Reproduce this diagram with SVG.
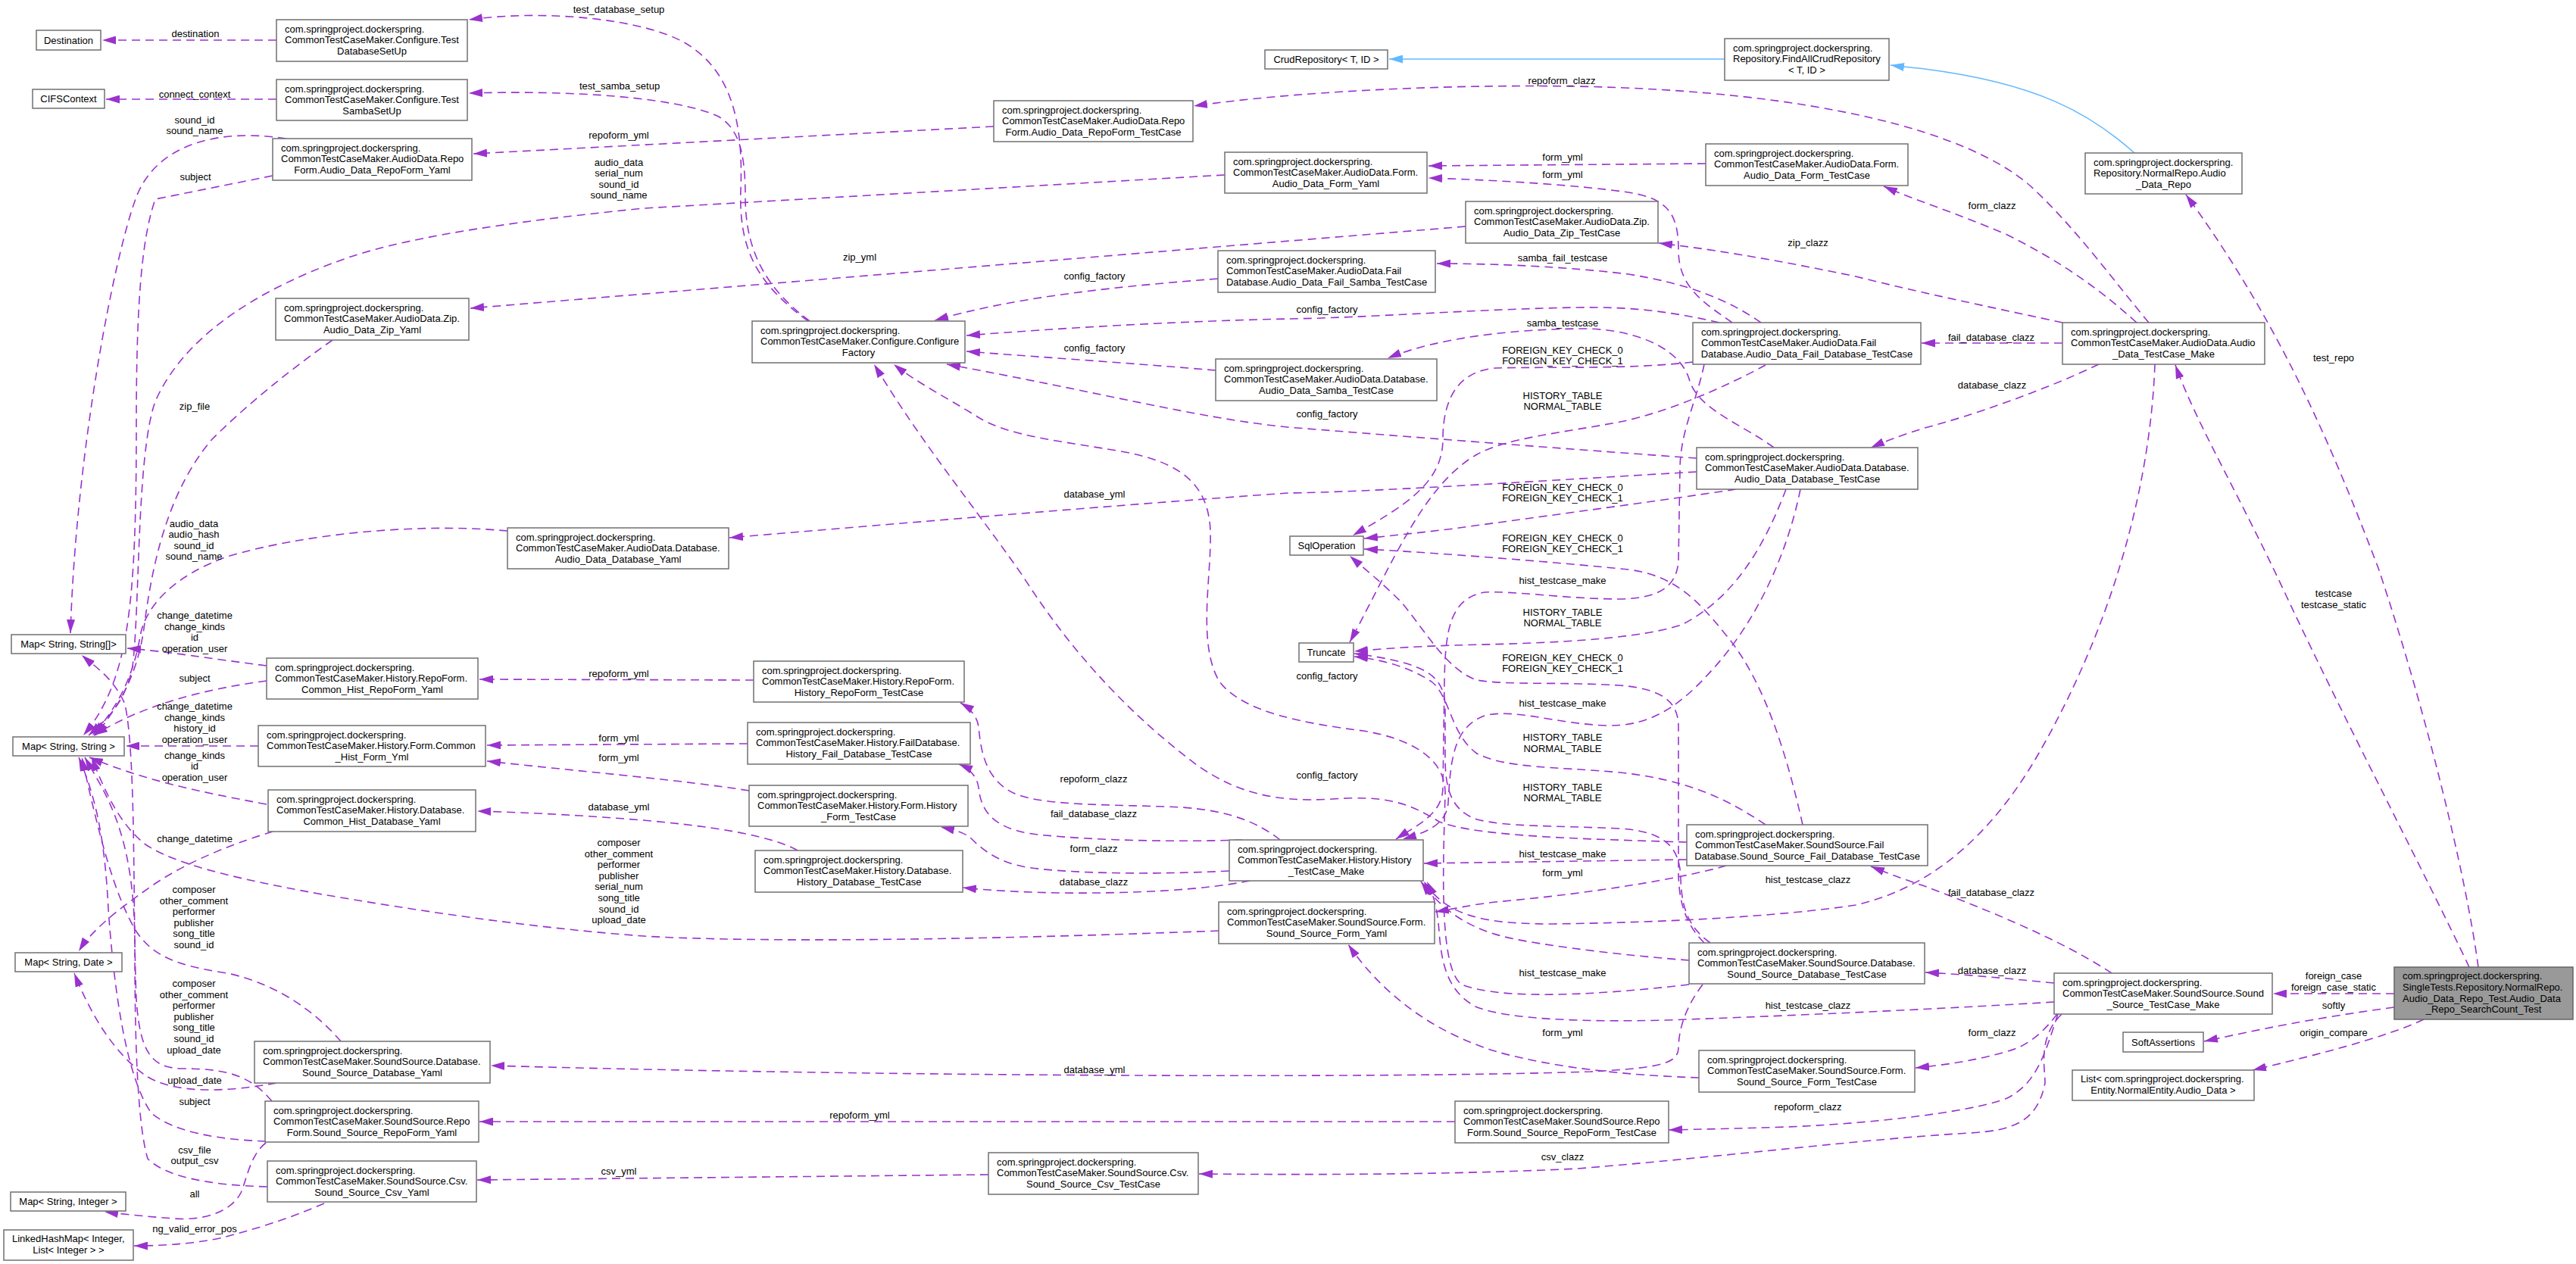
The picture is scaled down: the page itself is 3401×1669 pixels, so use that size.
<svg xmlns="http://www.w3.org/2000/svg" width="3401" height="1669" viewBox="0 0 3401 1669">
<style>
.n rect{fill:#fff;stroke:#707070;stroke-width:1.5}
.f rect{fill:#999;stroke:#666;stroke-width:1.5}
text{font-family:"Liberation Sans",Arial,sans-serif;font-size:13px;fill:#000}
.c{text-anchor:middle}
.e path{fill:none;stroke:#9a32cd;stroke-width:1.6;stroke-dasharray:11 7;marker-end:url(#a)}
.e path.b{stroke:#63b8ff;stroke-dasharray:none;marker-end:url(#b)}
.lb text{text-anchor:middle}
</style>
<defs>
<marker id="a" viewBox="0 0 18 11" refX="18" refY="5.5" markerWidth="18" markerHeight="11" markerUnits="userSpaceOnUse" orient="auto"><path d="M0,0L18,5.5L0,11z" fill="#9a32cd"/></marker>
<marker id="b" viewBox="0 0 18 11" refX="18" refY="5.5" markerWidth="18" markerHeight="11" markerUnits="userSpaceOnUse" orient="auto"><path d="M0,0L18,5.5L0,11z" fill="#63b8ff"/></marker>
</defs>
<rect width="3401" height="1669" fill="#fff"/>

<g id="connectors">
<g class="e">
<path class="b" d="M2818,202 C2760,150 2690,110 2541,91 C2525,89 2510,88 2496,86"/>
<path class="b" d="M2277,78 L1834,78"/>
<path d="M365,53 L135,53"/>
<path d="M365,131 L140,131"/>
<path d="M1067,424 C1000,375 975,330 978,250 C982,150 960,90 905,57 C850,25 720,12 619,26"/>
<path d="M1069,424 C1010,380 984,330 984,260 C984,200 975,170 949,154 C910,135 800,118 619,123"/>
<path d="M1312,167 L625,203"/>
<path d="M378,183 C280,168 205,195 180,260 C150,340 100,600 93,836"/>
<path d="M360,232 L205,263 C185,320 180,420 180,560 C180,800 170,900 110,971"/>
<path d="M1617,231 L850,275 C700,290 548,310 460,340 C330,385 240,450 205,530 C180,600 185,800 175,880 C165,930 140,950 117,971"/>
<path d="M670,701 C550,690 400,705 300,735 C230,760 192,800 185,840 C175,900 150,940 122,971"/>
<path d="M439,449 C380,490 320,540 280,580 C220,650 200,750 190,830 C180,900 150,940 126,971"/>
<path d="M352,879 C280,870 220,860 168,856"/>
<path d="M352,899 C270,910 190,930 124,971"/>
<path d="M341,985 L166,985"/>
<path d="M352,1062 C260,1045 190,1030 118,1000"/>
<path d="M360,1098 C320,1110 250,1135 200,1170 C150,1205 120,1230 104,1256"/>
<path d="M1609,1229 C1300,1241 1000,1245 850,1236 C700,1225 548,1202 420,1180 C300,1158 230,1140 192,1115 C160,1090 140,1050 121,1000"/>
<path d="M450,1375 C420,1340 370,1300 300,1285 C230,1275 200,1260 180,1230 C150,1180 130,1100 108,1000"/>
<path d="M365,1430 C300,1442 230,1445 192,1420 C150,1390 120,1340 98,1285"/>
<path d="M359,1454 C330,1420 300,1411 240,1411 C200,1410 185,1390 180,1320 C175,1200 180,1000 165,930 C150,895 125,880 108,865"/>
<path d="M351,1507 C290,1505 230,1495 200,1470 C165,1420 150,1300 143,1200 C138,1100 125,1050 104,1000"/>
<path d="M353,1567 C280,1565 220,1555 195,1530 C180,1480 178,1350 178,1250 C178,1100 140,1050 112,1000"/>
<path d="M351,1509 C330,1525 325,1560 318,1575 C305,1600 270,1612 230,1609 C190,1606 160,1603 138,1600"/>
<path d="M428,1589 C380,1610 330,1625 290,1635 C250,1643 210,1645 177,1645"/>
<path d="M1935,299 L621,407"/>
<path d="M1608,368 C1450,380 1330,395 1234,423"/>
<path d="M2270,426 C2200,410 2150,405 2084,406 C1950,408 1800,420 1700,421 C1560,424 1400,433 1276,443"/>
<path d="M1605,489 C1500,480 1380,472 1276,464"/>
<path d="M2240,605 C2100,595 1900,580 1700,564 C1580,552 1453,518 1250,481"/>
<path d="M2227,1112 C2100,1108 1950,1105 1900,1085 C1860,1060 1830,1050 1760,1055 C1680,1060 1630,1045 1580,1010 C1500,950 1420,870 1350,760 C1280,660 1220,590 1154,481"/>
<path d="M2230,1300 C2100,1315 1980,1320 1930,1300 C1900,1280 1905,1150 1908,1050 C1910,1000 1860,975 1800,965 C1720,955 1640,940 1610,900 C1580,850 1600,760 1598,700 C1595,640 1560,610 1480,596 C1400,582 1330,576 1290,550 C1250,525 1210,505 1180,481"/>
<path d="M2325,426 C2280,395 2230,375 2150,362 C2050,350 1950,348 1897,348"/>
<path d="M2342,591 C2300,560 2240,540 2230,500 C2215,455 2150,433 2084,434 C2000,435 1900,445 1832,473"/>
<path d="M2287,426 C2250,400 2216,380 2216,330 C2216,280 2200,262 2150,254 C2080,244 1980,238 1886,235"/>
<path d="M2252,216 L1886,219"/>
<path d="M2235,478 C2150,488 2050,484 1974,486 C1930,490 1905,520 1905,580 C1905,640 1850,670 1786,707"/>
<path d="M2331,482 C2280,510 2200,545 2139,557 C2060,572 1990,578 1950,600 C1880,640 1840,740 1782,848"/>
<path d="M2250,481 C2240,530 2218,570 2218,620 L2216,740 C2214,775 2190,790 2139,791 C2070,791 2000,780 1960,782 C1915,790 1908,830 1907,900 L1905,1040 C1905,1075 1870,1090 1843,1108"/>
<path d="M2292,646 C2200,660 2050,680 1919,698 C1870,704 1830,708 1801,711"/>
<path d="M2358,646 C2330,720 2290,790 2220,825 C2150,848 2000,850 1919,852 C1860,854 1820,857 1788,860"/>
<path d="M2377,646 C2360,730 2320,820 2260,885 C2220,930 2180,960 2120,958 C2050,955 2000,935 1960,945 C1920,960 1915,1000 1912,1060 C1910,1090 1880,1100 1852,1108"/>
<path d="M2240,623 C2000,637 1800,650 1700,651 C1500,665 1200,690 963,710"/>
<path d="M2380,1089 C2360,1000 2330,900 2280,840 C2240,790 2210,760 2150,752 C2050,742 1900,730 1801,725"/>
<path d="M2331,1089 C2280,1055 2230,1030 2139,1020 C2050,1012 1990,1015 1950,995 C1915,970 1915,920 1890,900 C1860,880 1820,870 1788,867"/>
<path d="M2227,1135 L1880,1140"/>
<path d="M2279,1143 C2220,1160 2100,1180 1974,1191 C1940,1195 1920,1200 1895,1204"/>
<path d="M2250,1245 C2225,1220 2216,1190 2216,1150 L2216,960 C2216,930 2200,910 2139,905 C2060,900 1990,905 1950,898 C1910,885 1880,830 1850,795 C1820,765 1800,750 1782,734"/>
<path d="M2258,1245 C2230,1225 2220,1200 2219,1160 C2218,1120 2200,1098 2139,1094 C2050,1090 1990,1092 1950,1082 C1915,1070 1908,1040 1908,1000 L1908,930 C1905,890 1880,875 1788,863"/>
<path d="M2230,1268 C2150,1262 2050,1250 2000,1240 C1950,1230 1910,1210 1876,1164"/>
<path d="M2248,1300 C2225,1330 2216,1360 2216,1385 C2214,1405 2190,1410 2100,1415 C1800,1425 1100,1420 648,1407"/>
<path d="M2243,1423 C2150,1420 2050,1410 1974,1388 C1900,1365 1830,1320 1780,1247"/>
<path d="M1921,1481 L633,1481"/>
<path d="M1305,1551 L630,1558"/>
<path d="M1690,1109 C1660,1085 1620,1070 1560,1066 C1480,1062 1380,1065 1340,1048 C1300,1030 1295,990 1292,960 C1290,945 1280,935 1268,928"/>
<path d="M1640,1109 C1550,1112 1450,1110 1370,1102 C1310,1095 1295,1070 1292,1040 C1290,1025 1280,1015 1266,1009"/>
<path d="M1623,1150 C1500,1156 1400,1152 1355,1145 C1315,1138 1295,1120 1280,1105 C1270,1098 1255,1095 1242,1092"/>
<path d="M1650,1163 C1590,1175 1500,1180 1400,1179 C1340,1178 1300,1175 1271,1172"/>
<path d="M995,898 L633,897"/>
<path d="M987,982 L643,984"/>
<path d="M989,1044 C900,1030 800,1022 643,1005"/>
<path d="M1053,1123 C1030,1110 980,1095 860,1084 C780,1077 700,1073 630,1071"/>
<path d="M2837,426 C2790,370 2740,300 2680,245 C2600,175 2400,120 2080,114 C1900,111 1700,122 1576,140"/>
<path d="M2821,426 C2770,380 2720,345 2650,310 C2580,280 2530,265 2487,246"/>
<path d="M2723,426 C2650,410 2550,390 2450,365 C2330,340 2250,328 2190,321"/>
<path d="M2723,453 L2537,453"/>
<path d="M2771,481 C2700,515 2600,550 2541,565 C2510,575 2490,582 2470,591"/>
<path d="M2845,481 C2840,620 2800,800 2700,980 C2640,1090 2560,1170 2450,1195 C2350,1210 2200,1218 2050,1220 C1960,1220 1910,1210 1880,1164"/>
<path d="M2788,1285 C2720,1240 2620,1200 2541,1170 C2510,1160 2490,1152 2470,1144"/>
<path d="M2712,1298 C2650,1292 2600,1287 2542,1284"/>
<path d="M2712,1323 C2600,1330 2400,1340 2200,1347 C2080,1350 1990,1345 1950,1330 C1910,1310 1903,1270 1900,1230 C1898,1200 1892,1180 1884,1164"/>
<path d="M2716,1339 C2700,1360 2680,1380 2651,1388 C2610,1400 2570,1406 2529,1410"/>
<path d="M2717,1339 C2700,1390 2690,1430 2650,1450 C2600,1470 2450,1485 2358,1488 C2300,1490 2250,1491 2203,1492"/>
<path d="M2722,1339 C2690,1370 2700,1410 2700,1430 C2690,1480 2660,1493 2600,1496 C2450,1505 2300,1525 2084,1543 C1900,1552 1700,1551 1583,1550"/>
<path d="M3161,1312 L3001,1312"/>
<path d="M3161,1330 C3050,1345 2980,1360 2910,1375"/>
<path d="M3200,1346 C3150,1370 3050,1395 2974,1413"/>
<path d="M3260,1277 C3200,1150 3100,960 3020,790 C2960,660 2900,560 2872,482"/>
<path d="M3272,1277 C3255,1150 3200,930 3140,750 C3090,620 3020,440 2886,257"/>
</g>
<g class="lb">
<text x="258" y="49">destination</text>
<text x="257" y="128.5">connect_context</text>
<text x="257" y="162.5">sound_id<tspan x="257" dy="14.6">sound_name</tspan></text>
<text x="258" y="237.5">subject</text>
<text x="817" y="16.5">test_database_setup</text>
<text x="818" y="117.5">test_samba_setup</text>
<text x="817" y="182.5">repoform_yml</text>
<text x="817" y="218.5">audio_data<tspan x="817" dy="14.6">serial_num</tspan><tspan x="817" dy="14.6">sound_id</tspan><tspan x="817" dy="14.6">sound_name</tspan></text>
<text x="257" y="540.5">zip_file</text>
<text x="1135" y="343.5">zip_yml</text>
<text x="1445" y="368.5">config_factory</text>
<text x="1445" y="463.5">config_factory</text>
<text x="2062" y="110.5">repoform_clazz</text>
<text x="2063" y="211.5">form_yml</text>
<text x="2063" y="234.5">form_yml</text>
<text x="2387" y="324.5">zip_clazz</text>
<text x="2063" y="344.5">samba_fail_testcase</text>
<text x="1752" y="412.5">config_factory</text>
<text x="2063" y="430.5">samba_testcase</text>
<text x="2063" y="466.5">FOREIGN_KEY_CHECK_0<tspan x="2063" dy="14.6">FOREIGN_KEY_CHECK_1</tspan></text>
<text x="2063" y="526.5">HISTORY_TABLE<tspan x="2063" dy="14.6">NORMAL_TABLE</tspan></text>
<text x="1752" y="550.5">config_factory</text>
<text x="2630" y="275.5">form_clazz</text>
<text x="2629" y="449.5">fail_database_clazz</text>
<text x="2630" y="512.5">database_clazz</text>
<text x="3081" y="476.5">test_repo</text>
<text x="256" y="695.5">audio_data<tspan x="256" dy="14.6">audio_hash</tspan><tspan x="256" dy="14.6">sound_id</tspan><tspan x="256" dy="14.6">sound_name</tspan></text>
<text x="257" y="817">change_datetime<tspan x="257" dy="14.6">change_kinds</tspan><tspan x="257" dy="14.6">id</tspan><tspan x="257" dy="14.6">operation_user</tspan></text>
<text x="257" y="899.5">subject</text>
<text x="257" y="937">change_datetime<tspan x="257" dy="14.6">change_kinds</tspan><tspan x="257" dy="14.6">history_id</tspan><tspan x="257" dy="14.6">operation_user</tspan></text>
<text x="257" y="1001.5">change_kinds<tspan x="257" dy="14.6">id</tspan><tspan x="257" dy="14.6">operation_user</tspan></text>
<text x="257" y="1112">change_datetime</text>
<text x="817" y="893.5">repoform_yml</text>
<text x="817" y="979">form_yml</text>
<text x="817" y="1004.5">form_yml</text>
<text x="817" y="1069.5">database_yml</text>
<text x="817" y="1117">composer<tspan x="817" dy="14.6">other_comment</tspan><tspan x="817" dy="14.6">performer</tspan><tspan x="817" dy="14.6">publisher</tspan><tspan x="817" dy="14.6">serial_num</tspan><tspan x="817" dy="14.6">song_title</tspan><tspan x="817" dy="14.6">sound_id</tspan><tspan x="817" dy="14.6">upload_date</tspan></text>
<text x="1445" y="656.5">database_yml</text>
<text x="1444" y="1033">repoform_clazz</text>
<text x="1444" y="1078.5">fail_database_clazz</text>
<text x="2063" y="647.5">FOREIGN_KEY_CHECK_0<tspan x="2063" dy="14.6">FOREIGN_KEY_CHECK_1</tspan></text>
<text x="2063" y="714.5">FOREIGN_KEY_CHECK_0<tspan x="2063" dy="14.6">FOREIGN_KEY_CHECK_1</tspan></text>
<text x="2063" y="770.5">hist_testcase_make</text>
<text x="2063" y="812.5">HISTORY_TABLE<tspan x="2063" dy="14.6">NORMAL_TABLE</tspan></text>
<text x="1752" y="896.5">config_factory</text>
<text x="2063" y="872.5">FOREIGN_KEY_CHECK_0<tspan x="2063" dy="14.6">FOREIGN_KEY_CHECK_1</tspan></text>
<text x="2063" y="933">hist_testcase_make</text>
<text x="2063" y="978">HISTORY_TABLE<tspan x="2063" dy="14.6">NORMAL_TABLE</tspan></text>
<text x="1752" y="1028">config_factory</text>
<text x="2063" y="1043.5">HISTORY_TABLE<tspan x="2063" dy="14.6">NORMAL_TABLE</tspan></text>
<text x="3081" y="788">testcase<tspan x="3081" dy="14.6">testcase_static</tspan></text>
<text x="256" y="1179">composer<tspan x="256" dy="14.6">other_comment</tspan><tspan x="256" dy="14.6">performer</tspan><tspan x="256" dy="14.6">publisher</tspan><tspan x="256" dy="14.6">song_title</tspan><tspan x="256" dy="14.6">sound_id</tspan></text>
<text x="256" y="1303">composer<tspan x="256" dy="14.6">other_comment</tspan><tspan x="256" dy="14.6">performer</tspan><tspan x="256" dy="14.6">publisher</tspan><tspan x="256" dy="14.6">song_title</tspan><tspan x="256" dy="14.6">sound_id</tspan><tspan x="256" dy="14.6">upload_date</tspan></text>
<text x="257" y="1431">upload_date</text>
<text x="257" y="1459">subject</text>
<text x="257" y="1522.5">csv_file<tspan x="257" dy="14.6">output_csv</tspan></text>
<text x="257" y="1580.5">all</text>
<text x="257" y="1627">ng_valid_error_pos</text>
<text x="817" y="1551">csv_yml</text>
<text x="1444" y="1124.5">form_clazz</text>
<text x="1444" y="1168.5">database_clazz</text>
<text x="1445" y="1417">database_yml</text>
<text x="1135" y="1477">repoform_yml</text>
<text x="2063" y="1132">hist_testcase_make</text>
<text x="2063" y="1157">form_yml</text>
<text x="2387" y="1165.5">hist_testcase_clazz</text>
<text x="2063" y="1288.5">hist_testcase_make</text>
<text x="2387" y="1332">hist_testcase_clazz</text>
<text x="2063" y="1368">form_yml</text>
<text x="2387" y="1465.5">repoform_clazz</text>
<text x="2063" y="1532">csv_clazz</text>
<text x="2629" y="1183">fail_database_clazz</text>
<text x="2630" y="1285.5">database_clazz</text>
<text x="2630" y="1367.5">form_clazz</text>
<text x="3081" y="1293">foreign_case<tspan x="3081" dy="14.6">foreign_case_static</tspan></text>
<text x="3081" y="1331.5">softly</text>
<text x="3081" y="1367.5">origin_compare</text>
</g>
</g>

<g id="n_dest" class="n"><rect x="48" y="40" width="85" height="26"/><text class="c" x="90.5" y="57.5">Destination</text></g>
<g id="n_cifs" class="n"><rect x="43" y="118" width="95" height="25"/><text class="c" x="90.5" y="135">CIFSContext</text></g>
<g id="n_tds" class="n"><rect x="365" y="26" width="252" height="55"/><text x="376" y="42.5">com.springproject.dockerspring.</text><text x="376" y="57">CommonTestCaseMaker.Configure.Test</text><text class="c" x="491" y="71.5">DatabaseSetUp</text></g>
<g id="n_tss" class="n"><rect x="365" y="105" width="252" height="54"/><text x="376" y="121.5">com.springproject.dockerspring.</text><text x="376" y="136">CommonTestCaseMaker.Configure.Test</text><text class="c" x="491" y="150.5">SambaSetUp</text></g>
<g id="n_adrfy" class="n"><rect x="360" y="183" width="263" height="55"/><text x="371" y="199.5">com.springproject.dockerspring.</text><text x="371" y="214">CommonTestCaseMaker.AudioData.Repo</text><text class="c" x="491.5" y="228.5">Form.Audio_Data_RepoForm_Yaml</text></g>
<g id="n_adzy" class="n"><rect x="364" y="394" width="255" height="55"/><text x="375" y="410.5">com.springproject.dockerspring.</text><text x="375" y="425">CommonTestCaseMaker.AudioData.Zip.</text><text class="c" x="491.5" y="439.5">Audio_Data_Zip_Yaml</text></g>
<g id="n_mssa" class="n"><rect x="15" y="838" width="151" height="25"/><text class="c" x="90.5" y="855">Map&lt; String, String[]&gt;</text></g>
<g id="n_mss" class="n"><rect x="17" y="973" width="147" height="25"/><text class="c" x="90.5" y="990">Map&lt; String, String &gt;</text></g>
<g id="n_addy" class="n"><rect x="670" y="697" width="292" height="54"/><text x="681" y="713.5">com.springproject.dockerspring.</text><text x="681" y="728">CommonTestCaseMaker.AudioData.Database.</text><text class="c" x="816" y="742.5">Audio_Data_Database_Yaml</text></g>
<g id="n_chrfy" class="n"><rect x="352" y="869" width="279" height="54"/><text x="363" y="885.5">com.springproject.dockerspring.</text><text x="363" y="900">CommonTestCaseMaker.History.RepoForm.</text><text class="c" x="491.5" y="914.5">Common_Hist_RepoForm_Yaml</text></g>
<g id="n_chfy" class="n"><rect x="341" y="958" width="300" height="54"/><text x="352" y="974.5">com.springproject.dockerspring.</text><text x="352" y="989">CommonTestCaseMaker.History.Form.Common</text><text class="c" x="491" y="1003.5">_Hist_Form_Yml</text></g>
<g id="n_chdy" class="n"><rect x="354" y="1043" width="274" height="55"/><text x="365" y="1059.5">com.springproject.dockerspring.</text><text x="365" y="1074">CommonTestCaseMaker.History.Database.</text><text class="c" x="491" y="1088.5">Common_Hist_Database_Yaml</text></g>
<g id="n_msd" class="n"><rect x="20" y="1258" width="141" height="25"/><text class="c" x="90.5" y="1275">Map&lt; String, Date &gt;</text></g>
<g id="n_ssdy" class="n"><rect x="336" y="1375" width="311" height="55"/><text x="347" y="1391.5">com.springproject.dockerspring.</text><text x="347" y="1406">CommonTestCaseMaker.SoundSource.Database.</text><text class="c" x="491.5" y="1420.5">Sound_Source_Database_Yaml</text></g>
<g id="n_ssrfy" class="n"><rect x="350" y="1454" width="282" height="54"/><text x="361" y="1470.5">com.springproject.dockerspring.</text><text x="361" y="1485">CommonTestCaseMaker.SoundSource.Repo</text><text class="c" x="491" y="1499.5">Form.Sound_Source_RepoForm_Yaml</text></g>
<g id="n_sscy" class="n"><rect x="353" y="1533" width="276" height="54"/><text x="364" y="1549.5">com.springproject.dockerspring.</text><text x="364" y="1564">CommonTestCaseMaker.SoundSource.Csv.</text><text class="c" x="491" y="1578.5">Sound_Source_Csv_Yaml</text></g>
<g id="n_msi" class="n"><rect x="14" y="1574" width="152" height="25"/><text class="c" x="90" y="1591">Map&lt; String, Integer &gt;</text></g>
<g id="n_lhm" class="n"><rect x="5" y="1624" width="171" height="40"/><text x="16" y="1640">LinkedHashMap&lt; Integer,</text><text class="c" x="90.5" y="1655">List&lt; Integer &gt; &gt;</text></g>
<g id="n_adrftc" class="n"><rect x="1312" y="133" width="263" height="54"/><text x="1323" y="149.5">com.springproject.dockerspring.</text><text x="1323" y="164">CommonTestCaseMaker.AudioData.Repo</text><text class="c" x="1443.5" y="178.5">Form.Audio_Data_RepoForm_TestCase</text></g>
<g id="n_cf" class="n"><rect x="993" y="424" width="281" height="55"/><text x="1004" y="440.5">com.springproject.dockerspring.</text><text x="1004" y="455">CommonTestCaseMaker.Configure.Configure</text><text class="c" x="1133.5" y="469.5">Factory</text></g>
<g id="n_hrftc" class="n"><rect x="995" y="873" width="278" height="54"/><text x="1006" y="889.5">com.springproject.dockerspring.</text><text x="1006" y="904">CommonTestCaseMaker.History.RepoForm.</text><text class="c" x="1134" y="918.5">History_RepoForm_TestCase</text></g>
<g id="n_hfdbtc" class="n"><rect x="987" y="954" width="294" height="55"/><text x="998" y="970.5">com.springproject.dockerspring.</text><text x="998" y="985">CommonTestCaseMaker.History.FailDatabase.</text><text class="c" x="1134" y="999.5">History_Fail_Database_TestCase</text></g>
<g id="n_hftc" class="n"><rect x="989" y="1037" width="289" height="54"/><text x="1000" y="1053.5">com.springproject.dockerspring.</text><text x="1000" y="1068">CommonTestCaseMaker.History.Form.History</text><text class="c" x="1133.5" y="1082.5">_Form_TestCase</text></g>
<g id="n_hdbtc" class="n"><rect x="997" y="1123" width="274" height="55"/><text x="1008" y="1139.5">com.springproject.dockerspring.</text><text x="1008" y="1154">CommonTestCaseMaker.History.Database.</text><text class="c" x="1134" y="1168.5">History_Database_TestCase</text></g>
<g id="n_ssctc" class="n"><rect x="1305" y="1522" width="277" height="55"/><text x="1316" y="1538.5">com.springproject.dockerspring.</text><text x="1316" y="1553">CommonTestCaseMaker.SoundSource.Csv.</text><text class="c" x="1443.5" y="1567.5">Sound_Source_Csv_TestCase</text></g>
<g id="n_crud" class="n"><rect x="1670" y="66" width="162" height="25"/><text class="c" x="1751" y="83">CrudRepository&lt; T, ID &gt;</text></g>
<g id="n_adfy" class="n"><rect x="1617" y="201" width="267" height="54"/><text x="1628" y="217.5">com.springproject.dockerspring.</text><text x="1628" y="232">CommonTestCaseMaker.AudioData.Form.</text><text class="c" x="1750.5" y="246.5">Audio_Data_Form_Yaml</text></g>
<g id="n_adfstc" class="n"><rect x="1608" y="331" width="287" height="55"/><text x="1619" y="347.5">com.springproject.dockerspring.</text><text x="1619" y="362">CommonTestCaseMaker.AudioData.Fail</text><text class="c" x="1751.5" y="376.5">Database.Audio_Data_Fail_Samba_TestCase</text></g>
<g id="n_adstc" class="n"><rect x="1605" y="474" width="292" height="55"/><text x="1616" y="490.5">com.springproject.dockerspring.</text><text x="1616" y="505">CommonTestCaseMaker.AudioData.Database.</text><text class="c" x="1751" y="519.5">Audio_Data_Samba_TestCase</text></g>
<g id="n_sqlop" class="n"><rect x="1703" y="708" width="97" height="25"/><text class="c" x="1751.5" y="725">SqlOperation</text></g>
<g id="n_trunc" class="n"><rect x="1715" y="849" width="72" height="25"/><text class="c" x="1751" y="866">Truncate</text></g>
<g id="n_htm" class="n"><rect x="1623" y="1109" width="256" height="54"/><text x="1634" y="1125.5">com.springproject.dockerspring.</text><text x="1634" y="1140">CommonTestCaseMaker.History.History</text><text class="c" x="1751" y="1154.5">_TestCase_Make</text></g>
<g id="n_ssfy" class="n"><rect x="1609" y="1191" width="285" height="55"/><text x="1620" y="1207.5">com.springproject.dockerspring.</text><text x="1620" y="1222">CommonTestCaseMaker.SoundSource.Form.</text><text class="c" x="1751.5" y="1236.5">Sound_Source_Form_Yaml</text></g>
<g id="n_ssrftc" class="n"><rect x="1921" y="1454" width="282" height="55"/><text x="1932" y="1470.5">com.springproject.dockerspring.</text><text x="1932" y="1485">CommonTestCaseMaker.SoundSource.Repo</text><text class="c" x="2062" y="1499.5">Form.Sound_Source_RepoForm_TestCase</text></g>
<g id="n_findall" class="n"><rect x="2277" y="51" width="217" height="55"/><text x="2288" y="67.5">com.springproject.dockerspring.</text><text x="2288" y="82">Repository.FindAllCrudRepository</text><text class="c" x="2385.5" y="96.5">&lt; T, ID &gt;</text></g>
<g id="n_adftc" class="n"><rect x="2252" y="190" width="267" height="55"/><text x="2263" y="206.5">com.springproject.dockerspring.</text><text x="2263" y="221">CommonTestCaseMaker.AudioData.Form.</text><text class="c" x="2385.5" y="235.5">Audio_Data_Form_TestCase</text></g>
<g id="n_adztc" class="n"><rect x="1935" y="266" width="254" height="55"/><text x="1946" y="282.5">com.springproject.dockerspring.</text><text x="1946" y="297">CommonTestCaseMaker.AudioData.Zip.</text><text class="c" x="2062" y="311.5">Audio_Data_Zip_TestCase</text></g>
<g id="n_adfdbtc" class="n"><rect x="2235" y="426" width="301" height="55"/><text x="2246" y="442.5">com.springproject.dockerspring.</text><text x="2246" y="457">CommonTestCaseMaker.AudioData.Fail</text><text class="c" x="2385.5" y="471.5">Database.Audio_Data_Fail_Database_TestCase</text></g>
<g id="n_addbtc" class="n"><rect x="2240" y="591" width="292" height="55"/><text x="2251" y="607.5">com.springproject.dockerspring.</text><text x="2251" y="622">CommonTestCaseMaker.AudioData.Database.</text><text class="c" x="2386" y="636.5">Audio_Data_Database_TestCase</text></g>
<g id="n_ssfdbtc" class="n"><rect x="2227" y="1089" width="318" height="54"/><text x="2238" y="1105.5">com.springproject.dockerspring.</text><text x="2238" y="1120">CommonTestCaseMaker.SoundSource.Fail</text><text class="c" x="2386" y="1134.5">Database.Sound_Source_Fail_Database_TestCase</text></g>
<g id="n_ssdbtc" class="n"><rect x="2230" y="1245" width="311" height="54"/><text x="2241" y="1261.5">com.springproject.dockerspring.</text><text x="2241" y="1276">CommonTestCaseMaker.SoundSource.Database.</text><text class="c" x="2385.5" y="1290.5">Sound_Source_Database_TestCase</text></g>
<g id="n_ssftc" class="n"><rect x="2243" y="1387" width="285" height="55"/><text x="2254" y="1403.5">com.springproject.dockerspring.</text><text x="2254" y="1418">CommonTestCaseMaker.SoundSource.Form.</text><text class="c" x="2385.5" y="1432.5">Sound_Source_Form_TestCase</text></g>
<g id="n_adrepo" class="n"><rect x="2753" y="202" width="207" height="54"/><text x="2764" y="218.5">com.springproject.dockerspring.</text><text x="2764" y="233">Repository.NormalRepo.Audio</text><text class="c" x="2856.5" y="247.5">_Data_Repo</text></g>
<g id="n_adtm" class="n"><rect x="2723" y="426" width="267" height="55"/><text x="2734" y="442.5">com.springproject.dockerspring.</text><text x="2734" y="457">CommonTestCaseMaker.AudioData.Audio</text><text class="c" x="2856.5" y="471.5">_Data_TestCase_Make</text></g>
<g id="n_sstm" class="n"><rect x="2712" y="1285" width="288" height="54"/><text x="2723" y="1301.5">com.springproject.dockerspring.</text><text x="2723" y="1316">CommonTestCaseMaker.SoundSource.Sound</text><text class="c" x="2856" y="1330.5">_Source_TestCase_Make</text></g>
<g id="n_focus" class="f"><rect x="3161" y="1277" width="236" height="69"/><text x="3172" y="1293">com.springproject.dockerspring.</text><text x="3172" y="1308">SingleTests.Repository.NormalRepo.</text><text x="3172" y="1322.5">Audio_Data_Repo_Test.Audio_Data</text><text class="c" x="3279" y="1337">_Repo_SearchCount_Test</text></g>
<g id="n_soft" class="n"><rect x="2803" y="1363" width="106" height="26"/><text class="c" x="2856" y="1380.5">SoftAssertions</text></g>
<g id="n_list" class="n"><rect x="2736" y="1413" width="240" height="40"/><text x="2747" y="1429">List&lt; com.springproject.dockerspring.</text><text class="c" x="2856" y="1444">Entity.NormalEntity.Audio_Data &gt;</text></g>
</svg>
